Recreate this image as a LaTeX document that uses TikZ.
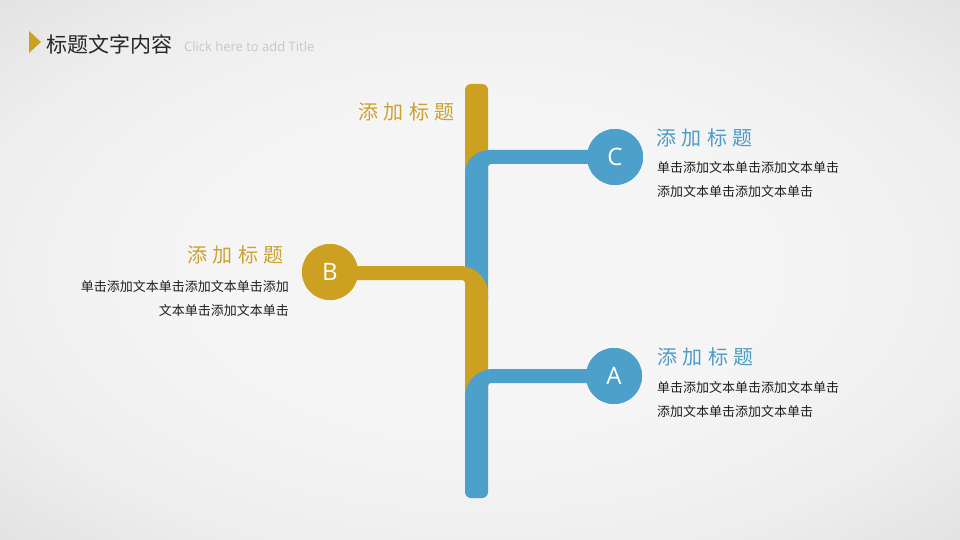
\documentclass[tikz,border=0pt]{standalone}
\usepackage{fontspec}
\setmainfont{Open Sans}
\newfontfamily\cjk{Noto Sans CJK SC}
\usetikzlibrary{calc}
\definecolor{gold}{RGB}{204,160,32}
\definecolor{goldtxt}{RGB}{203,162,48}
\definecolor{blue1}{RGB}{76,160,201}
\definecolor{bluetxt}{RGB}{78,156,198}
\definecolor{bodytxt}{RGB}{30,30,30}
\definecolor{bgin}{RGB}{245,245,245}
\definecolor{bgmid}{RGB}{238,238,238}
\definecolor{bgedge}{RGB}{226,226,226}
\definecolor{bgout}{RGB}{214,214,214}
\pgfdeclareradialshading{bgshade}{\pgfpoint{0bp}{0bp}}{color(0bp)=(bgin); color(15bp)=(bgin); color(27bp)=(bgmid); color(36bp)=(bgedge); color(50bp)=(bgout)}
\tikzset{
  dot/.style={circle, inner sep=0pt, minimum size=56pt, text=white, font=\fontsize{24}{24}\selectfont},
  head/.style={inner sep=0pt, font=\cjk\fontsize{20}{20}\selectfont},
  body/.style={inner sep=0pt, text=bodytxt, font=\cjk\fontsize{13}{13}\selectfont},
}
\newcommand{\hd}{添\kern5.5pt 加\kern5.5pt 标\kern5.5pt 题}
\begin{document}
\begin{tikzpicture}[x=1pt,y=-1pt]
\useasboundingbox (0,0) rectangle (960,540);
\shade[shading=bgshade] (0,0) rectangle (960,540);
% header
\fill[gold] (29,31) -- (41,42) -- (29,53) -- cycle;
\node[inner sep=0pt, anchor=west, font=\cjk\fontsize{21}{21}\selectfont, text=black!85] (title) at (46,44) {标题文字内容};
\node[inner sep=0pt, anchor=west, font=\fontsize{13}{13}\selectfont, text=black!22] (sub) at (184,47) {Click here to add Title};
% spine coordinates
\coordinate (top) at (476,84);
\coordinate (bot) at (476,498);
% gold top segment
\fill[gold] (465,200) -- (465,90) arc[start angle=180,end angle=270,radius=6] -- (482,84) arc[start angle=270,end angle=360,radius=6] -- (488,200) -- cycle;
% circle nodes
\path node[dot, fill=blue1] (C) at (615,157) {C}
      node[dot, fill=gold] (B) at (330,272) {B}
      node[dot, fill=blue1] (A) at (614,376) {A};
% blue C branch
\fill[blue1] (C.center |- 0,150) -- (489,150) arc[start angle=-90,end angle=-180,radius=24] -- (465,300) -- (488,300) -- (488,167) arc[start angle=180,end angle=270,radius=3] -- (C.center |- 0,164) -- cycle;
% gold B branch
\fill[gold] (B.center |- 0,266) -- (460,266) arc[start angle=-90,end angle=0,radius=28] -- (488,400) -- (465,400) -- (465,283) arc[start angle=0,end angle=-90,radius=3] -- (B.center |- 0,280) -- cycle;
% blue A branch
\fill[blue1] (A.center |- 0,369) -- (493,369) arc[start angle=-90,end angle=-180,radius=28] -- (465,492) arc[start angle=180,end angle=90,radius=6] -- (482,498) arc[start angle=90,end angle=0,radius=6] -- (488,386) arc[start angle=180,end angle=270,radius=3] -- (A.center |- 0,383) -- cycle;
% redraw circles on top
\path node[dot, fill=blue1] (C2) at (C) {C}
      node[dot, fill=gold] (B2) at (B) {B}
      node[dot, fill=blue1] (A2) at (A) {A};
% texts
\node[head, text=goldtxt, anchor=east] (t0) at (455,112) {\hd};
\node[head, text=bluetxt, anchor=west] (tC) at (656,138) {\hd};
\node[body, anchor=west] (bC1) at (657,168) {单击添加文本单击添加文本单击};
\node[body, anchor=west] (bC2) at (657,192) {添加文本单击添加文本单击};
\node[head, text=goldtxt, anchor=east] (tB) at (284,255) {\hd};
\node[body, anchor=east] (bB1) at (289,287) {单击添加文本单击添加文本单击添加};
\node[body, anchor=east] (bB2) at (289,311) {文本单击添加文本单击};
\node[head, text=bluetxt, anchor=west] (tA) at (657,357) {\hd};
\node[body, anchor=west] (bA1) at (657,388) {单击添加文本单击添加文本单击};
\node[body, anchor=west] (bA2) at (657,412) {添加文本单击添加文本单击};
\end{tikzpicture}
\end{document}
